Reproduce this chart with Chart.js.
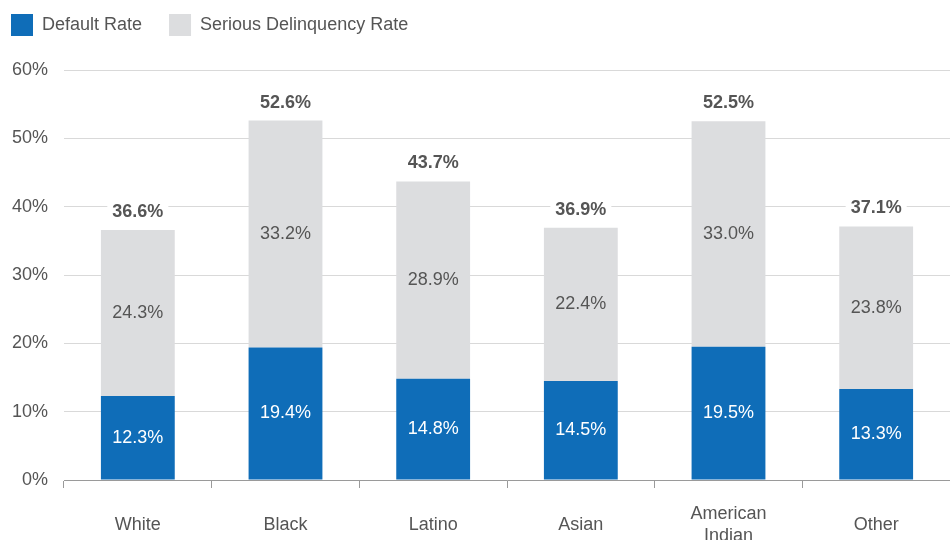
<!DOCTYPE html>
<html lang="en">
<head>
    <meta charset="UTF-8">
    <title>Default and Serious Delinquency Rates</title>
    <script src="https://cdn.jsdelivr.net/npm/chart.js"></script>
    <style>
        body {
            margin: 0;
            padding: 0;
            background-color: #ffffff;
        }

        #wrap {
            width: 950px;
            height: 540px;
            position: relative;
        }
    </style>
</head>
<body>
    <div id="wrap"><canvas id="rateChart"></canvas></div>

    <script>
        // Data
        const categories = ['White', 'Black', 'Latino', 'Asian', ['American', 'Indian'], 'Other'];
        const defaultRate = [12.3, 19.4, 14.8, 14.5, 19.5, 13.3];
        const seriousRate = [24.3, 33.2, 28.9, 22.4, 33.0, 23.8];
        const seriesNames = ['Default Rate', 'Serious Delinquency Rate'];

        const BLUE = '#0f6db8';
        const GREY = '#dcdddf';
        const TEXT = '#555555';

        Chart.defaults.font.family = '"Liberation Sans", Arial, sans-serif';
        Chart.defaults.font.size = 18;
        Chart.defaults.color = TEXT;

        // push the plot area down below the legend
        const legendSpacing = {
            id: 'legendSpacing',
            beforeInit(chart) {
                const fit = chart.legend.fit;
                chart.legend.fit = function () {
                    fit.call(this);
                    this.height += 24;
                };
            }
        };

        // value labels inside each segment + bold totals on top
        const barLabels = {
            id: 'barLabels',
            afterDatasetsDraw(chart) {
                const ctx = chart.ctx;
                ctx.save();
                ctx.textAlign = 'center';
                ctx.textBaseline = 'middle';
                ctx.font = '18px "Liberation Sans", Arial, sans-serif';

                chart.data.datasets.forEach((ds, i) => {
                    const meta = chart.getDatasetMeta(i);
                    meta.data.forEach((bar, j) => {
                        ctx.fillStyle = i === 0 ? '#ffffff' : TEXT;
                        ctx.fillText(ds.data[j].toFixed(1) + '%', bar.x, (bar.y + bar.base) / 2);
                    });
                });

                // totals
                const top = chart.getDatasetMeta(1);
                ctx.font = 'bold 18px "Liberation Sans", Arial, sans-serif';
                top.data.forEach((bar, j) => {
                    const txt = (defaultRate[j] + seriousRate[j]).toFixed(1) + '%';
                    const w = ctx.measureText(txt).width;
                    const y = bar.y - 18;
                    ctx.fillStyle = '#ffffff';
                    ctx.fillRect(bar.x - w / 2 - 5, y - 11, w + 10, 22);
                    ctx.fillStyle = TEXT;
                    ctx.fillText(txt, bar.x, y);
                });
                ctx.restore();
            }
        };

        const ctx = document.getElementById('rateChart').getContext('2d');

        const chart = new Chart(ctx, {
            type: 'bar',
            data: {
                labels: categories,
                datasets: [{
                    label: seriesNames[0],
                    data: defaultRate,
                    backgroundColor: BLUE
                }, {
                    label: seriesNames[1],
                    data: seriousRate,
                    backgroundColor: GREY
                }]
            },
            options: {
                responsive: true,
                maintainAspectRatio: false,
                animation: false,
                categoryPercentage: 0.5,
                barPercentage: 1,
                layout: {
                    padding: { left: -16, top: -13, right: -2, bottom: 0 }
                },
                scales: {
                    x: {
                        stacked: true,
                        afterFit: (scale) => { scale.height = 60; },
                        grid: {
                            drawOnChartArea: false,
                            tickLength: 8,
                            color: '#9a9a9a'
                        },
                        border: {
                            color: '#9a9a9a'
                        },
                        ticks: {
                            color: TEXT,
                            padding: 26,
                            crossAlign: 'center',
                            maxRotation: 0
                        }
                    },
                    y: {
                        stacked: true,
                        min: 0,
                        max: 60,
                        afterFit: (scale) => { scale.width = 80; },
                        border: { display: false },
                        grid: {
                            color: '#d9d9d9',
                            drawTicks: false
                        },
                        ticks: {
                            stepSize: 10,
                            padding: 16,
                            color: TEXT,
                            callback: (v) => v + '%'
                        }
                    }
                },
                plugins: {
                    tooltip: { enabled: false },
                    legend: {
                        position: 'top',
                        align: 'start',
                        labels: {
                            boxWidth: 22,
                            boxHeight: 22,
                            padding: 27,
                            color: TEXT
                        }
                    }
                }
            },
            plugins: [legendSpacing, barLabels]
        });
    </script>
</body>
</html>
